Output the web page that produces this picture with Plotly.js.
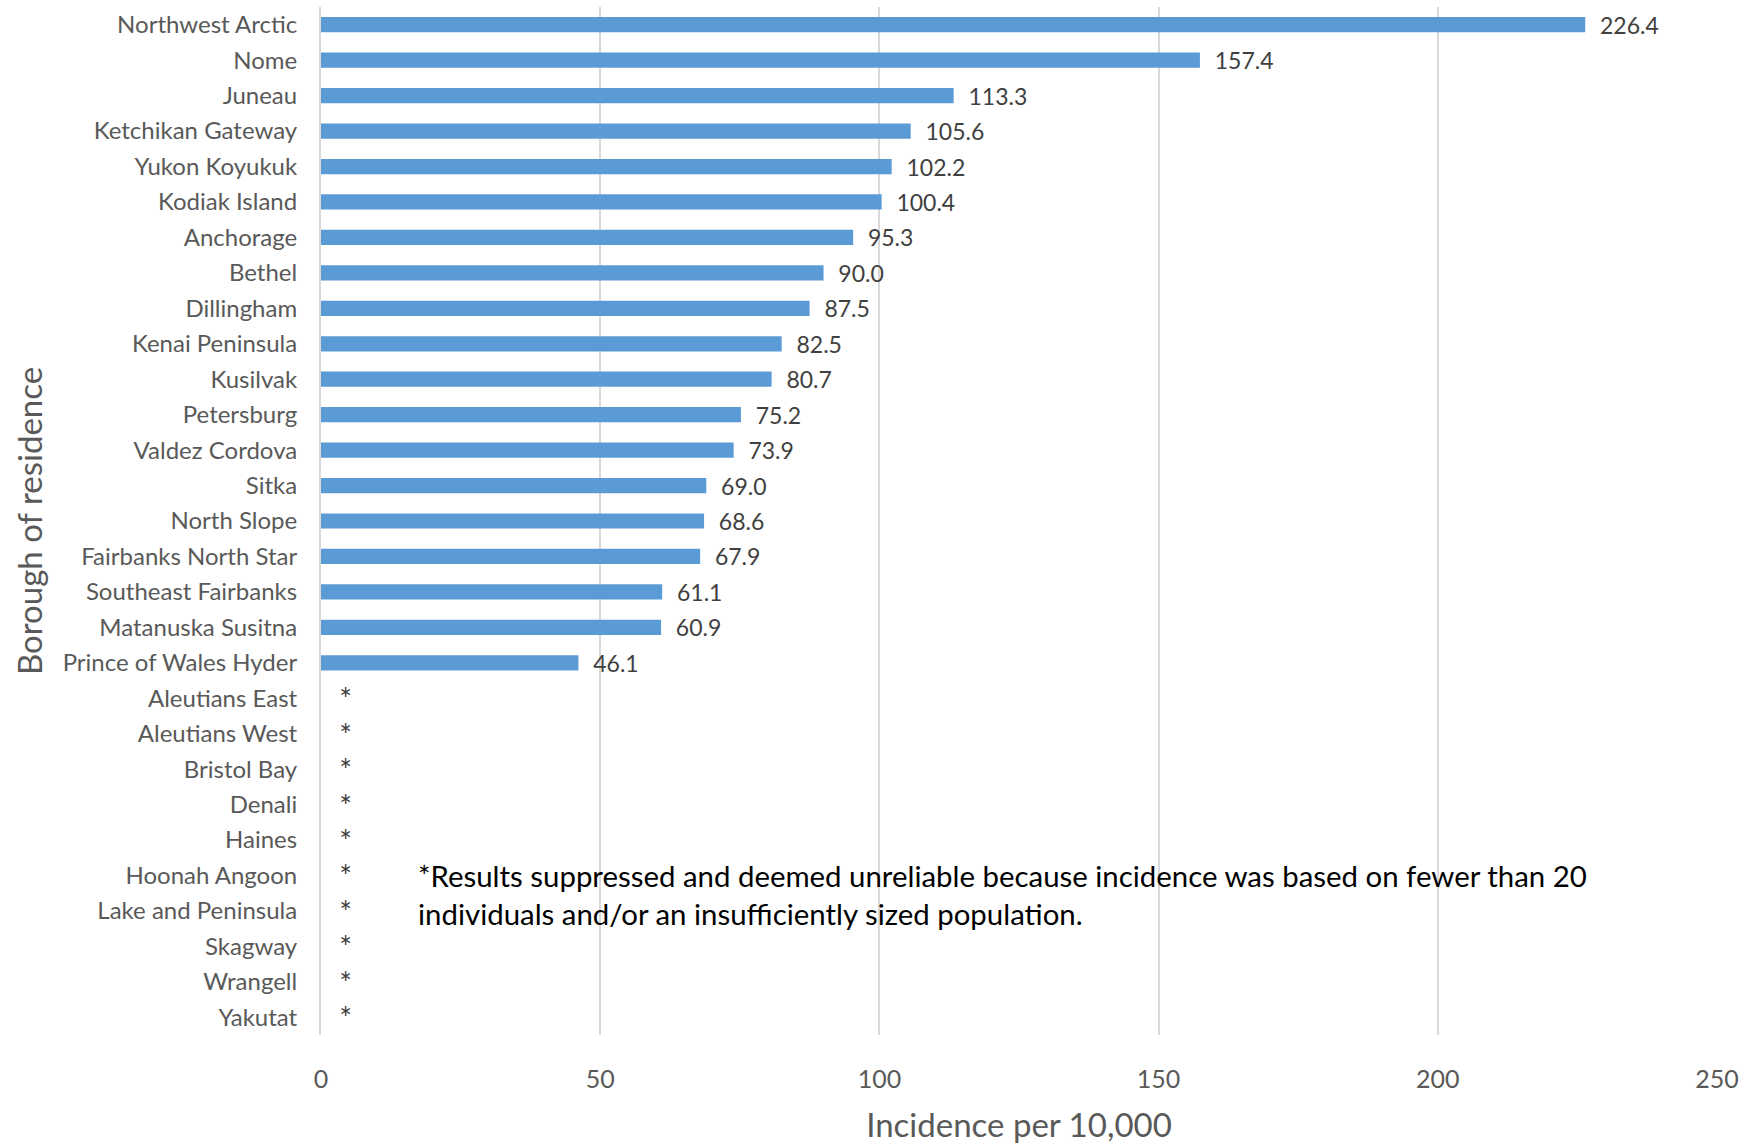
<!DOCTYPE html>
<html>
<head>
<meta charset="utf-8">
<script src="https://cdn.plot.ly/plotly-3.0.1.min.js"></script>
<style>html,body{margin:0;padding:0;background:#fff;}#chart{width:1756px;height:1146px;}</style>
</head>
<body>
<div id="chart"></div>
<script>
const boroughs = ["Northwest Arctic","Nome","Juneau","Ketchikan Gateway","Yukon Koyukuk","Kodiak Island","Anchorage","Bethel","Dillingham","Kenai Peninsula","Kusilvak","Petersburg","Valdez Cordova","Sitka","North Slope","Fairbanks North Star","Southeast Fairbanks","Matanuska Susitna","Prince of Wales Hyder","Aleutians East","Aleutians West","Bristol Bay","Denali","Haines","Hoonah Angoon","Lake and Peninsula","Skagway","Wrangell","Yakutat"];
const incidence = [226.4,157.4,113.3,105.6,102.2,100.4,95.3,90.0,87.5,82.5,80.7,75.2,73.9,69.0,68.6,67.9,61.1,60.9,46.1,null,null,null,null,null,null,null,null,null,null];
const xTicks = [0,50,100,150,200,250];
const footnote = "*Results suppressed and deemed unreliable because incidence was based on fewer than 20<br>individuals and/or an insufficiently sized population.";

const FONT = "Lato, 'Open Sans', sans-serif";
const pad = "\u00a0\u00a0";
const trace = {
  type: "bar",
  orientation: "h",
  y: boroughs,
  x: incidence.map(v => v === null ? 0 : v),
  text: incidence.map(v => pad + (v === null ? "*" : v.toFixed(1))),
  textposition: "outside",
  constraintext: "none",
  cliponaxis: false,
  textfont: {family: FONT, size: incidence.map(v => v === null ? 30 : 23), color: "#404040"},
  marker: {color: "#5B9BD5"},
  hoverinfo: "x+y"
};

const layout = {
  width: 1756, height: 1146,
  margin: {l: 321, r: 39, t: 7, b: 111},
  paper_bgcolor: "#fff", plot_bgcolor: "#fff",
  bargap: 0.57,
  showlegend: false,
  font: {family: FONT, color: "#595959"},
  xaxis: {
    range: [0, 250],
    tickvals: xTicks,
    ticktext: xTicks.map(String),
    showgrid: true, gridcolor: "#D9D9D9", gridwidth: 2,
    zeroline: false, showline: false,
    ticks: "", ticklabelstandoff: 27,
    tickfont: {family: FONT, size: 25, color: "#595959"},
    title: {text: "Incidence per 10,000", font: {family: FONT, size: 33, color: "#595959"}, standoff: 21}
  },
  yaxis: {
    type: "category",
    autorange: "reversed",
    showgrid: false, zeroline: false,
    showline: true, linecolor: "#D9D9D9", linewidth: 2,
    ticks: "", ticklabelstandoff: 17,
    tickfont: {family: FONT, size: 24, color: "#595959"},
    title: {text: "Borough of residence", font: {family: FONT, size: 33, color: "#595959"}, standoff: 10}
  },
  annotations: [{
    text: footnote,
    xref: "paper", yref: "paper",
    x: 0.068, y: 0.137,
    xanchor: "left", yanchor: "middle", align: "left",
    showarrow: false,
    font: {family: FONT, size: 29.4, color: "#000000"}
  }]
};

Plotly.newPlot("chart", [trace], layout, {displayModeBar: false, staticPlot: true});
</script>
</body>
</html>
